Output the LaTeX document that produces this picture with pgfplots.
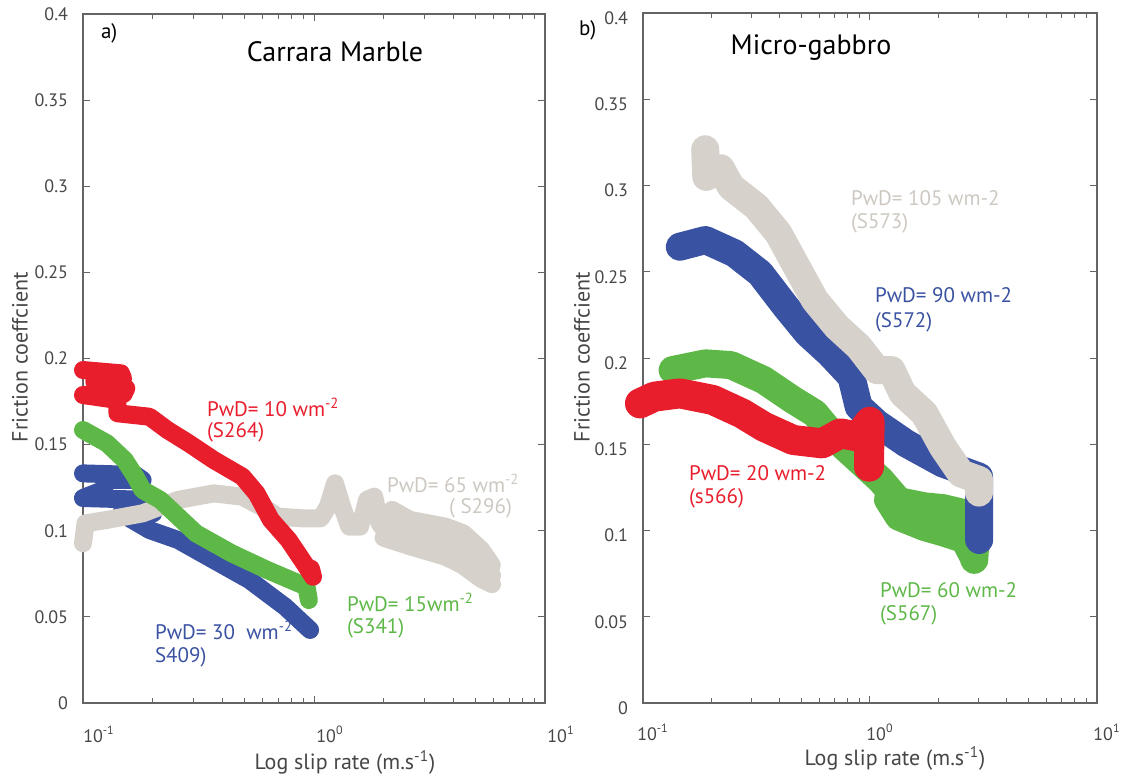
\documentclass[border=0pt]{standalone}
\usepackage{fontspec}
\setmainfont{PT Sans}
\usepackage{pgfplots}
\pgfplotsset{compat=1.18}
\definecolor{cred}{RGB}{232,30,45}
\definecolor{cgreen}{RGB}{94,184,72}
\definecolor{cblue}{RGB}{58,82,162}
\definecolor{cgrey}{RGB}{214,210,203}
\definecolor{tgrey}{RGB}{205,200,193}
\definecolor{axc}{RGB}{100,100,100}
\definecolor{tkc}{RGB}{70,70,70}
\pgfplotsset{every axis/.append style={
  scale only axis, clip=false, anchor=south west,
  axis line style={draw=axc, line width=0.6pt},
  major tick length=3.5pt, minor tick length=2.5pt, tick align=inside,
  tick label style={font=\fontsize{9}{10}\selectfont, text=tkc},
  yticklabel style={xshift=-4pt},
}}
\tikzset{thin band/.style={line width=9pt, line join=round, line cap=round},
         wide band/.style={line width=14pt, line join=round, line cap=round}}
\newcommand{\lab}{\fontsize{10.5}{12}\selectfont}
\newcommand{\axl}{\fontsize{11}{13}\selectfont}
\begin{document}
\begin{tikzpicture}
\useasboundingbox (-41.5pt,-37.5pt) rectangle (524.5pt,351.5pt);
% ---------------- panel a ----------------
\begin{axis}[at={(0pt,0pt)}, width=231pt, height=344.5pt,
  xmode=log, xmin=0.1, xmax=10, ymin=0, ymax=0.4,
  xtick={0.1,1,10},
  xticklabels={10\textsuperscript{-1},10\textsuperscript{0},10\textsuperscript{1}},
  xticklabel style={yshift=-8pt, xshift=8pt},
  minor xtick={0.2,0.3,0.4,0.5,0.6,0.7,0.8,0.9,2,3,4,5,6,7,8,9},
  ytick={0,0.05,0.1,0.15,0.2,0.25,0.3,0.35,0.4},
  yticklabels={0,0.05,0.1,0.15,0.2,0.25,0.3,0.35,0.4},
  tick style={draw=axc, line width=0.5pt}]
\addplot[cblue, thin band] coordinates {
(0.1,0.1333) (0.1686,0.1324) (0.1811,0.1295) (0.1269,0.1295) (0.1225,0.1237)
(0.1,0.1190) (0.1943,0.1179) (0.2014,0.1101) (0.1463,0.1101) (0.1943,0.1004)
(0.2582,0.0946) (0.3684,0.0830) (0.5255,0.0714) (0.75,0.0559) (0.9616,0.0424)};
\addplot[cgrey, thin band] coordinates {
(0.1,0.0927) (0.1025,0.1043) (0.1269,0.1063) (0.1811,0.1101) (0.2582,0.1179)
(0.3684,0.1217) (0.4896,0.1198) (0.6281,0.1121) (0.6985,0.1082) (0.8959,0.1072)
(1.0698,0.1072) (1.1486,0.1140) (1.2331,0.1275) (1.3239,0.1140) (1.4214,0.1024)
(1.5825,0.1024) (1.699,0.1180) (1.8242,0.1198) (1.9231,0.1043) (2.1777,0.1121)
(2.6009,0.1063) (3.7101,0.1024) (4.4332,0.0985) (5.2943,0.0890) (5.8899,0.0800)};
\addplot[cgrey, thin band] coordinates {
(1.95,0.1030) (2.6,0.0990) (3.7,0.0940) (4.4,0.0900) (5.3,0.0810) (5.9,0.0740)};
\addplot[cgrey, thin band] coordinates {
(2.0,0.0960) (2.6,0.0910) (3.7,0.0850) (4.4,0.0800) (5.3,0.0720) (5.9,0.0690)};
\addplot[cgreen, thin band] coordinates {
(0.1,0.1585) (0.1269,0.1508) (0.1515,0.1411) (0.1686,0.1314) (0.1811,0.1237)
(0.2162,0.1179) (0.2582,0.1082) (0.3084,0.0985) (0.4401,0.0869) (0.6281,0.0772)
(0.9281,0.0675) (0.95,0.0598)};
\addplot[cred, thin band] coordinates {
(0.1,0.1933) (0.146,0.1914) (0.149,0.1885) (0.112,0.1866) (0.154,0.1827)
(0.15,0.1795) (0.1,0.1788) (0.141,0.1759) (0.141,0.1682) (0.194,0.1662)
(0.232,0.1585) (0.287,0.1508) (0.368,0.1411) (0.490,0.1314) (0.564,0.1217)
(0.651,0.1063) (0.777,0.0946) (0.928,0.0792) (0.99,0.0733) (0.97,0.0780)};
\end{axis}
% ---------------- panel b ----------------
\begin{axis}[at={(280pt,0pt)}, width=227pt, height=345pt,
  xmode=log, xmin=0.1, xmax=10, ymin=0, ymax=0.4,
  xtick={0.1,1,10},
  xticklabels={10\textsuperscript{-1},10\textsuperscript{0},10\textsuperscript{1}},
  xticklabel style={yshift=-7pt, xshift=5pt},
  minor xtick={0.2,0.3,0.4,0.5,0.6,0.7,0.8,0.9,2,3,4,5,6,7,8,9},
  ytick={0,0.05,0.1,0.15,0.2,0.25,0.3,0.35,0.4},
  yticklabels={0,0.05,0.1,0.15,0.2,0.25,0.3,0.35,0.4},
  yticklabel style={yshift=-2.5pt},
  tick style={draw=axc, line width=0.5pt}]
\addplot[cgreen, wide band] coordinates {
(0.135,0.1930) (0.1884,0.1969) (0.2441,0.1959) (0.3405,0.1872) (0.458,0.1757)
(0.5717,0.1679) (0.714,0.1525) (0.8916,0.1409) (1.1131,0.1293) (1.3397,0.1170)
(1.7358,0.1140) (2.0889,0.1130) (2.6086,0.1100) (2.9148,0.0945) (2.88,0.0830)};
\addplot[cgreen, wide band] coordinates {
(1.2,0.118) (1.34,0.108) (1.74,0.102) (2.09,0.099) (2.6,0.095) (2.85,0.085)};
\addplot[cblue, wide band] coordinates {
(0.1453,0.2645) (0.1884,0.2684) (0.2533,0.2607) (0.3282,0.2491) (0.4252,0.2298)
(0.5311,0.2143) (0.6631,0.2027) (0.8279,0.1892) (0.8916,0.1718) (1.0728,0.1621)
(1.4428,0.1505) (2.0889,0.1389) (2.5138,0.1351) (3.0247,0.1312) (3.0247,0.0945)};
\addplot[cgrey, wide band] coordinates {
(0.188,0.3210) (0.19,0.3050) (0.22,0.3100) (0.2441,0.2993) (0.3162,0.2877)
(0.3948,0.2723) (0.4751,0.2529) (0.5717,0.2336) (0.714,0.2182) (0.8916,0.2066)
(1.0728,0.1930) (1.2441,0.1930) (1.3903,0.1795) (1.7358,0.1679) (2.0889,0.1486)
(2.5138,0.1331) (3.0247,0.1293) (3.02,0.1220)};
\addplot[cred, wide band, line width=15pt] coordinates {
(0.097,0.1737) (0.1122,0.1776) (0.1453,0.1795) (0.2028,0.1757) (0.2728,0.1679)
(0.3405,0.1602) (0.458,0.1525) (0.6156,0.1505) (0.7409,0.1563) (0.8916,0.1544)
(0.9963,0.1630) (0.99,0.1370)};
\end{axis}
% ---------------- texts ----------------
\node[anchor=west, text=cred, font=\lab] at (58.5pt,148pt) {PwD= 10 wm\textsuperscript{-2}};
\node[anchor=west, text=cred, font=\lab] at (58.5pt,135.5pt) {(S264)};
\node[anchor=west, text=tgrey, font=\lab] at (148.5pt,110pt) {PwD= 65 wm\textsuperscript{-2}};
\node[anchor=west, text=tgrey, font=\lab] at (179.5pt,97.5pt) {( S296)};
\node[anchor=west, text=cgreen, font=\lab] at (128.5pt,50.5pt) {PwD= 15wm\textsuperscript{-2}};
\node[anchor=west, text=cgreen, font=\lab] at (128.5pt,37.5pt) {(S341)};
\node[anchor=west, text=cblue, font=\lab] at (32.5pt,36.5pt) {PwD= 30\ \ wm\textsuperscript{-2}};
\node[anchor=west, text=cblue, font=\lab] at (32.5pt,23pt) {S409)};
\node[anchor=west, font=\lab] at (5.5pt,335pt) {a)};
\node[font=\fontsize{14}{16}\selectfont] at (126pt,325.5pt) {Carrara Marble};
\node[rotate=90, font=\axl, text=tkc] at (-31.5pt,173pt) {Friction coeffcient};
\node[font=\axl, text=tkc] at (131pt,-29.5pt) {Log slip rate (m.s\textsuperscript{-1})};
\node[anchor=west, font=\lab] at (244.5pt,336.5pt) {b)};
\node[font=\fontsize{14}{16}\selectfont] at (364pt,327.5pt) {Micro-gabbro};
\node[anchor=west, text=tgrey, font=\lab] at (380.5pt,252.5pt) {PwD= 105 wm-2};
\node[anchor=west, text=tgrey, font=\lab] at (380.5pt,240pt) {(S573)};
\node[anchor=west, text=cblue, font=\lab] at (392.5pt,204pt) {PwD= 90 wm-2};
\node[anchor=west, text=cblue, font=\lab] at (392.5pt,190.5pt) {(S572)};
\node[anchor=west, text=cred, font=\lab] at (299.5pt,115pt) {PwD= 20 wm-2};
\node[anchor=west, text=cred, font=\lab] at (299.5pt,102.5pt) {(s566)};
\node[anchor=west, text=cgreen, font=\lab] at (395pt,56.5pt) {PwD= 60 wm-2};
\node[anchor=west, text=cgreen, font=\lab] at (395pt,44pt) {(S567)};
\node[rotate=90, font=\axl, text=tkc] at (249.5pt,173pt) {Friction coeffcient};
\node[font=\axl, text=tkc] at (406pt,-27.5pt) {Log slip rate (m.s\textsuperscript{-1})};
\end{tikzpicture}
\end{document}
